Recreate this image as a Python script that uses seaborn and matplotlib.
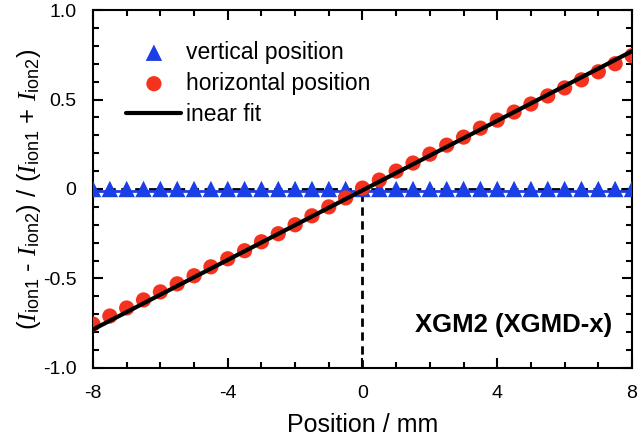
import seaborn as sns
import pandas as pd
import numpy as np
import matplotlib.pyplot as plt
from matplotlib.ticker import MultipleLocator

# data
position = [-8, -7.5, -7, -6.5, -6, -5.5, -5, -4.5, -4, -3.5, -3, -2.5, -2, -1.5, -1, -0.5,
            0, 0.5, 1, 1.5, 2, 2.5, 3, 3.5, 4, 4.5, 5, 5.5, 6, 6.5, 7, 7.5, 8]
horizontal = [-0.755, -0.71, -0.665, -0.62, -0.575, -0.53, -0.485, -0.435, -0.39, -0.345,
              -0.295, -0.25, -0.2, -0.15, -0.1, -0.05, 0.005, 0.05, 0.1, 0.145, 0.195,
              0.245, 0.29, 0.34, 0.385, 0.43, 0.475, 0.52, 0.565, 0.61, 0.655, 0.7, 0.745]
vertical = [0.0] * len(position)
fit_x = [-8, 8]
fit_y = [-0.785, 0.77]
vfit_y = [-0.012, -0.012]

sns.set_style('ticks')
plt.rcParams['font.family'] = ['Liberation Sans', 'DejaVu Sans']
plt.rcParams['mathtext.fontset'] = 'custom'
plt.rcParams['mathtext.rm'] = 'Liberation Sans'
plt.rcParams['mathtext.it'] = 'Liberation Serif:italic'
plt.rcParams['text.color'] = 'black'
plt.rcParams['axes.labelcolor'] = 'black'

fig = plt.figure(figsize=(6.4, 4.38), dpi=100)
ax = fig.add_axes([0.1453, 0.16, 0.8422, 0.817])

df = pd.DataFrame({'x': position, 'h': horizontal, 'v': vertical})

ax.axhline(0, color='black', lw=2, ls=(0, (3, 2)), zorder=1)
ax.plot([0, 0], [-1, 0], color='black', lw=2, ls=(0, (3, 2)), zorder=1)
sns.lineplot(x=fit_x, y=vfit_y, color='#1f3fe0', lw=2, ax=ax, zorder=2)

sns.scatterplot(data=df, x='x', y='v', marker='^', s=140, color='#1a3fe6',
                edgecolor='none', ax=ax, zorder=3, label='vertical position')
sns.scatterplot(data=df, x='x', y='h', marker='o', s=120, color='#f5321e',
                edgecolor='none', ax=ax, zorder=3, label='horizontal position')
sns.lineplot(x=fit_x, y=fit_y, color='black', lw=3, ax=ax, zorder=4, label='inear fit')

ax.set_xlim(-8, 8)
ax.set_ylim(-1, 1)
ax.set_xticks([-8, -4, 0, 4, 8])
ax.set_xticklabels(['-8', '-4', '0', '4', '8'])
ax.set_yticks([-1, -0.5, 0, 0.5, 1])
ax.set_yticklabels(['-1.0', '-0.5', '0', '0.5', '1.0'])
ax.xaxis.set_minor_locator(MultipleLocator(1))
ax.yaxis.set_minor_locator(MultipleLocator(0.1))
ax.tick_params(which='both', direction='in', top=True, right=True, width=1.5,
               labelsize=14, colors='black')
ax.tick_params(which='major', length=7, pad=12)
ax.tick_params(which='minor', length=4)
for s in ax.spines.values():
    s.set_linewidth(1.5)
    s.set_color('black')

ax.set_xlabel('Position / mm', fontsize=18, labelpad=8)
ax.set_ylabel(r'$(I_{\rm ion1}$ - $I_{\rm ion2})$ / $(I_{\rm ion1}$ + $I_{\rm ion2})$',
              fontsize=18.5, labelpad=0)

ax.text(7.4, -0.76, 'XGM2 (XGMD-x)', fontsize=18.5, fontweight='bold',
        ha='right', va='center', color='black')

ax.legend(loc='upper left', bbox_to_anchor=(0.045, 0.94), frameon=False, fontsize=16.5,
          handlelength=2.4, handletextpad=0.2, labelspacing=0.35, borderaxespad=0)

fig.savefig('out.png', dpi=100)
